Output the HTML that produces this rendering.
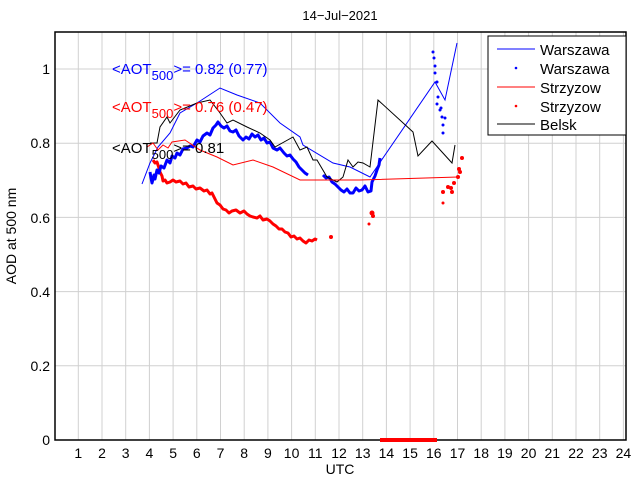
<!DOCTYPE html>
<html><head><meta charset="utf-8"><style>
html,body{margin:0;padding:0;background:#fff;}
svg{display:block;font-family:"Liberation Sans",sans-serif;}
</style></head><body>
<svg width="640" height="480" viewBox="0 0 640 480">
<rect width="640" height="480" fill="#fff"/>
<g stroke="#d0d0d0" stroke-width="1">
<line x1="78.3" y1="32" x2="78.3" y2="440"/><line x1="102" y1="32" x2="102" y2="440"/><line x1="125.7" y1="32" x2="125.7" y2="440"/><line x1="149.4" y1="32" x2="149.4" y2="440"/><line x1="173.1" y1="32" x2="173.1" y2="440"/><line x1="196.8" y1="32" x2="196.8" y2="440"/><line x1="220.5" y1="32" x2="220.5" y2="440"/><line x1="244.2" y1="32" x2="244.2" y2="440"/><line x1="267.9" y1="32" x2="267.9" y2="440"/><line x1="291.6" y1="32" x2="291.6" y2="440"/><line x1="315.3" y1="32" x2="315.3" y2="440"/><line x1="339" y1="32" x2="339" y2="440"/><line x1="362.7" y1="32" x2="362.7" y2="440"/><line x1="386.4" y1="32" x2="386.4" y2="440"/><line x1="410.1" y1="32" x2="410.1" y2="440"/><line x1="433.8" y1="32" x2="433.8" y2="440"/><line x1="457.5" y1="32" x2="457.5" y2="440"/><line x1="481.2" y1="32" x2="481.2" y2="440"/><line x1="504.9" y1="32" x2="504.9" y2="440"/><line x1="528.6" y1="32" x2="528.6" y2="440"/><line x1="552.3" y1="32" x2="552.3" y2="440"/><line x1="576" y1="32" x2="576" y2="440"/><line x1="599.7" y1="32" x2="599.7" y2="440"/><line x1="623.4" y1="32" x2="623.4" y2="440"/>
<line x1="55" y1="69" x2="626" y2="69"/><line x1="55" y1="143.2" x2="626" y2="143.2"/><line x1="55" y1="217.4" x2="626" y2="217.4"/><line x1="55" y1="291.6" x2="626" y2="291.6"/><line x1="55" y1="365.8" x2="626" y2="365.8"/>
</g>
<rect x="55" y="32" width="571" height="408" fill="none" stroke="#000" stroke-width="1.5"/>
<g font-size="14" fill="#000" text-anchor="end">
<text x="50" y="445">0</text><text x="50" y="371">0.2</text><text x="50" y="297">0.4</text><text x="50" y="223">0.6</text><text x="50" y="148">0.8</text><text x="50" y="74">1</text>
</g>
<g font-size="14" fill="#000" text-anchor="middle">
<text x="78.3" y="458">1</text><text x="102" y="458">2</text><text x="125.7" y="458">3</text><text x="149.4" y="458">4</text><text x="173.1" y="458">5</text><text x="196.8" y="458">6</text><text x="220.5" y="458">7</text><text x="244.2" y="458">8</text><text x="267.9" y="458">9</text><text x="291.6" y="458">10</text><text x="315.3" y="458">11</text><text x="339" y="458">12</text><text x="362.7" y="458">13</text><text x="386.4" y="458">14</text><text x="410.1" y="458">15</text><text x="433.8" y="458">16</text><text x="457.5" y="458">17</text><text x="481.2" y="458">18</text><text x="504.9" y="458">19</text><text x="528.6" y="458">20</text><text x="552.3" y="458">21</text><text x="576" y="458">22</text><text x="599.7" y="458">23</text><text x="623.4" y="458">24</text>
<text x="340" y="474">UTC</text>
<text x="340" y="20" font-size="13">14−Jul−2021</text>
<text transform="translate(16,236) rotate(-90)">AOD at 500 nm</text>
</g>
<line x1="380" y1="440" x2="437" y2="440" stroke="#f00" stroke-width="4"/>
<!-- red dots -->
<polyline fill="none" stroke="#f00" stroke-width="3" stroke-linejoin="round" points="153,160 155,163 157,162 159,168 160,172 162,176 163,181 165,180 167,183 170,182 173,180 176,182 180,181 183,184 186,183 189,187 193,186 196,189 200,188 204,191 207,190 210,194 212,193 215,199 217,203 220,205 223,209 226,210 229,213 232,211 236,210 240,213 244,211 247,214 250,216 253,217 257,218 260,216 263,220 267,219 270,221 273,224 276,226 279,229 282,229 285,232 288,233 291,237 294,236 297,239 300,238 303,241 306,243 309,240 312,241 315,239 317,240"/>
<g fill="#f00"><circle cx="331" cy="237" r="2"/><circle cx="372" cy="213" r="2.5"/><circle cx="373" cy="216" r="2"/><circle cx="369" cy="224" r="1.5"/><circle cx="443" cy="203" r="1.5"/><circle cx="443" cy="192" r="2"/><circle cx="448" cy="187" r="2"/><circle cx="452" cy="192" r="2"/><circle cx="451" cy="188" r="2"/><circle cx="454" cy="183" r="2"/><circle cx="458" cy="177" r="2"/><circle cx="460" cy="172" r="2"/><circle cx="459" cy="169" r="2"/><circle cx="462" cy="158" r="2"/></g>
<!-- blue dots -->
<polyline fill="none" stroke="#00f" stroke-width="3" stroke-linejoin="round" points="150,172 151,178 152,183 154,175 155,179 157,170 159,173 161,166 164,168 167,160 170,163 172,156 175,158 177,153 180,155 183,149 187,148 190,146 193,147 197,140 200,142 203,136 207,133 210,135 213,128 216,125 218,122 221,126 224,128 227,126 230,131 233,132 236,130 239,136 243,140 246,137 249,139 252,134 255,137 258,135 261,140 264,138 267,143 270,142 273,148 277,150 280,148 284,153 287,156 290,155 293,159 296,162 299,167 302,170 305,173 308,175"/>
<polyline fill="none" stroke="#00f" stroke-width="3" stroke-linejoin="round" points="323,175 326,178 329,177 332,182 335,184 338,187 341,190 344,192 347,189 350,193 353,193 356,188 359,191 362,190 365,186 368,192 371,191 372,182 375,176 377,170 379,165 380,158"/>
<g fill="#00f"><circle cx="433" cy="52" r="1.5"/><circle cx="434" cy="58" r="1.5"/><circle cx="435" cy="66" r="1.5"/><circle cx="435" cy="73" r="1.5"/><circle cx="437" cy="82" r="1.5"/><circle cx="438" cy="97" r="1.5"/><circle cx="437" cy="104" r="1.5"/><circle cx="440" cy="110" r="1.5"/><circle cx="442" cy="117" r="1.5"/><circle cx="445" cy="118" r="1.5"/><circle cx="443" cy="125" r="1.5"/><circle cx="443" cy="133" r="1.5"/><circle cx="441" cy="108" r="1.5"/></g>
<!-- lines -->
<polyline fill="none" stroke="#00f" stroke-width="1" points="142,184 150,163 158,147 170,133 180,113 197,103 220,88 237,95 260,103 280,123 300,137 303,145 333,163 350,167 370,177 435,82 445,100 457,43"/>
<polyline fill="none" stroke="#000" stroke-width="1" points="150,143 157,143 160,127 167,117 170,123 180,110 197,103 210,100 220,113 227,123 233,120 247,127 260,133 270,140 275,147 293,137 300,150 307,147 313,160 317,160 327,177 333,180 337,182 343,177 348,160 353,167 358,162 363,163 370,167 378,100 413,132 418,156 432,141 452,163 455,145"/>
<polyline fill="none" stroke="#f00" stroke-width="1" points="147,147 153,143 158,150 163,145 168,148 172,142 185,140 200,150 217,157 233,165 253,160 273,167 300,180 360,180 458,177"/>
<g font-size="15">
<text x="112" y="74" fill="#00f">&lt;AOT<tspan font-size="13" dy="6">500</tspan><tspan dy="-6">&gt;= 0.82 (0.77)</tspan></text>
<text x="112" y="112" fill="#f00">&lt;AOT<tspan font-size="13" dy="6">500</tspan><tspan dy="-6">&gt;= 0.76 (0.47)</tspan></text>
<text x="112" y="153" fill="#000">&lt;AOT<tspan font-size="13" dy="6">500</tspan><tspan dy="-6">&gt;= 0.81</tspan></text>
</g>
<rect x="488" y="36" width="138" height="99" fill="#fff" stroke="#000" stroke-width="1"/>
<g font-size="15" fill="#000">
<line x1="497" y1="49" x2="535" y2="49" stroke="#00f"/><text x="540" y="55">Warszawa</text>
<circle cx="516" cy="68" r="1.3" fill="#00f"/><text x="540" y="74">Warszawa</text>
<line x1="497" y1="87" x2="535" y2="87" stroke="#f00"/><text x="540" y="93">Strzyzow</text>
<circle cx="516" cy="106" r="1.3" fill="#f00"/><text x="540" y="112">Strzyzow</text>
<line x1="497" y1="124" x2="535" y2="124" stroke="#000"/><text x="540" y="130">Belsk</text>
</g>
</svg>
</body></html>
